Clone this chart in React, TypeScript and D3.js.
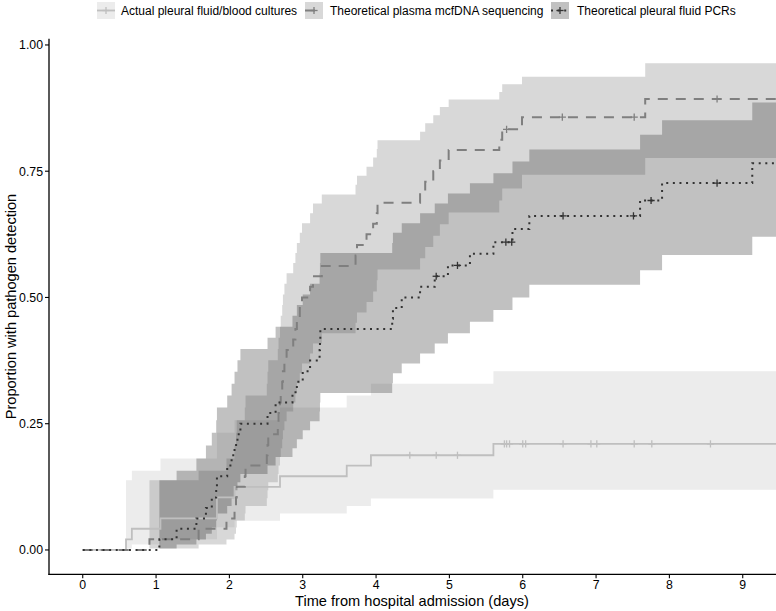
import React from 'react';
import * as d3 from 'd3';

const W = 776;
const H = 611;

// ---------- axis ticks ----------
const xTicks = [0, 1, 2, 3, 4, 5, 6, 7, 8, 9];
const yTicks = [0, 0.25, 0.5, 0.75, 1.0];
const yTickLabels = ['0.00', '0.25', '0.50', '0.75', '1.00'];
const xTitle = 'Time from hospital admission (days)';
const yTitle = 'Proportion with pathogen detection';
const legendLabels = [
  'Actual pleural fluid/blood cultures',
  'Theoretical plasma mcfDNA sequencing',
  'Theoretical pleural fluid PCRs',
];

// ---------- Actual pleural fluid/blood cultures ----------
const cultureTime = [0, 0.59, 0.67, 1.06, 1.83, 2.07, 2.69, 3.6, 3.93, 5.6];
const cultureEst = [0, 0.021, 0.042, 0.0625, 0.104, 0.125, 0.146, 0.167, 0.1875, 0.21];
const cultureLower = [0, 0.003, 0.011, 0.021, 0.045, 0.058, 0.072, 0.087, 0.102, 0.119];
const cultureUpper = [0, 0.138, 0.157, 0.181, 0.232, 0.257, 0.282, 0.306, 0.329, 0.354];
const cultureCensor = [4.46, 4.82, 5.11, 5.75, 5.78, 5.82, 6.0, 6.04, 6.55, 6.93, 7.01, 7.52, 7.76, 8.56];

// ---------- Theoretical plasma mcfDNA sequencing ----------
const mcfTime = [0, 0.91, 1.58, 1.96, 2.07, 2.09, 2.1, 2.21, 2.22, 2.51, 2.52, 2.53, 2.66, 2.67, 2.69, 2.7, 2.72, 2.73, 2.75, 2.78, 2.87, 2.9, 2.92, 2.96, 2.99, 3.1, 3.14, 3.26, 3.72, 3.74, 3.87, 3.96, 4.01, 4.02, 4.6, 4.67, 4.78, 4.87, 4.99, 5.68, 5.72, 5.99, 7.67];
const mcfEst = [0, 0.021, 0.042, 0.0625, 0.083, 0.104, 0.125, 0.146, 0.167, 0.1875, 0.208, 0.229, 0.25, 0.271, 0.292, 0.3125, 0.333, 0.354, 0.375, 0.396, 0.417, 0.4375, 0.458, 0.479, 0.5, 0.521, 0.542, 0.5625, 0.583, 0.604, 0.625, 0.646, 0.667, 0.6875, 0.708, 0.729, 0.75, 0.771, 0.792, 0.8125, 0.833, 0.857, 0.893];
const mcfLower = [0, 0.003, 0.0106, 0.0206, 0.0321, 0.0447, 0.0582, 0.0723, 0.0871, 0.1023, 0.118, 0.134, 0.1505, 0.167, 0.184, 0.2016, 0.219, 0.237, 0.255, 0.274, 0.292, 0.311, 0.33, 0.35, 0.369, 0.389, 0.409, 0.429, 0.45, 0.47, 0.491, 0.512, 0.534, 0.5555, 0.5775, 0.6, 0.622, 0.645, 0.668, 0.692, 0.716, 0.743, 0.776];
const mcfUpper = [0, 0.138, 0.157, 0.181, 0.207, 0.232, 0.257, 0.282, 0.306, 0.329, 0.353, 0.3755, 0.398, 0.42, 0.442, 0.464, 0.485, 0.506, 0.527, 0.548, 0.568, 0.588, 0.608, 0.628, 0.647, 0.667, 0.686, 0.704, 0.723, 0.741, 0.759, 0.777, 0.794, 0.8115, 0.828, 0.845, 0.861, 0.877, 0.892, 0.907, 0.922, 0.937, 0.964];
const mcfCensor = [5.78, 6.54, 7.52, 8.65];

// ---------- Theoretical pleural fluid PCRs ----------
const pcrTime = [0, 1.045, 1.28, 1.55, 1.68, 1.76, 1.82, 1.83, 1.97, 2.03, 2.07, 2.11, 2.15, 2.52, 2.63, 2.86, 2.92, 3.0, 3.1, 3.23, 3.235, 3.24, 4.22, 4.23, 4.35, 4.6, 4.8, 4.98, 5.28, 5.6, 5.86, 6.09, 7.6, 7.9, 9.13];
const pcrEst = [0, 0.021, 0.042, 0.0625, 0.083, 0.104, 0.125, 0.146, 0.167, 0.1875, 0.208, 0.229, 0.25, 0.271, 0.292, 0.3125, 0.333, 0.354, 0.375, 0.396, 0.417, 0.4375, 0.458, 0.479, 0.5, 0.521, 0.542, 0.5635, 0.5865, 0.6095, 0.6355, 0.6615, 0.692, 0.7265, 0.7656];
const pcrLower = [0, 0.003, 0.0106, 0.0206, 0.0321, 0.0447, 0.0582, 0.0723, 0.0871, 0.1023, 0.118, 0.134, 0.1505, 0.167, 0.184, 0.2016, 0.219, 0.237, 0.255, 0.274, 0.292, 0.311, 0.33, 0.35, 0.369, 0.389, 0.409, 0.429, 0.452, 0.475, 0.5, 0.525, 0.554, 0.584, 0.62];
const pcrUpper = [0, 0.138, 0.157, 0.181, 0.207, 0.232, 0.257, 0.282, 0.306, 0.329, 0.353, 0.3755, 0.398, 0.42, 0.442, 0.464, 0.485, 0.506, 0.527, 0.548, 0.568, 0.588, 0.608, 0.628, 0.647, 0.667, 0.686, 0.706, 0.726, 0.746, 0.769, 0.793, 0.822, 0.851, 0.886];
const pcrCensor = [4.82, 5.11, 5.77, 5.85, 6.55, 7.51, 7.75, 8.65];

const FONT = "'Liberation Sans', Arial, Helvetica, sans-serif";

const series = [
  { name: legendLabels[0], time: cultureTime, est: cultureEst, lo: cultureLower, up: cultureUpper, censor: cultureCensor, color: '#BFBFBF', dash: null as string | null, width: 1.8 },
  { name: legendLabels[1], time: mcfTime, est: mcfEst, lo: mcfLower, up: mcfUpper, censor: mcfCensor, color: '#7F7F7F', dash: '10 8', width: 2 },
  { name: legendLabels[2], time: pcrTime, est: pcrEst, lo: pcrLower, up: pcrUpper, censor: pcrCensor, color: '#333333', dash: '2 4.6', width: 2 },
];

const xEnd = 9.6;

export default function App() {
  const left = 49, right = 775, top = 38.8, bottom = 574.3;
  const x = d3.scaleLinear().domain([-0.46, 9.44]).range([left, right]);
  const y = d3.scaleLinear().domain([-0.0482, 1.0122]).range([bottom, top]);

  type P = { t: number; e: number; lo: number; up: number };
  const pts = (s: typeof series[number]): P[] => {
    const arr = s.time.map((t, i) => ({ t, e: s.est[i], lo: s.lo[i], up: s.up[i] }));
    const last = arr[arr.length - 1];
    arr.push({ ...last, t: xEnd });
    return arr;
  };
  const area = d3.area<P>().x(d => x(d.t)).y0(d => y(d.lo)).y1(d => y(d.up)).curve(d3.curveStepAfter);
  const line = d3.line<P>().x(d => x(d.t)).y(d => y(d.e)).curve(d3.curveStepAfter);
  const stepAt = (s: typeof series[number], t: number) => {
    const i = d3.bisectRight(s.time, t) - 1;
    return s.est[Math.max(0, i)];
  };

  const legendKeys = [
    { kx: 97, tx: 121 },
    { kx: 305, tx: 330 },
    { kx: 551, tx: 577 },
  ];
  const keyW = 18, keyY = 2, keyH = 17;

  const plus = (cx: number, cy: number, color: string, key: string, size = 3.6, sw = 1.3) => (
    <g key={key} stroke={color} strokeWidth={sw}>
      <line x1={cx - size} x2={cx + size} y1={cy} y2={cy} />
      <line x1={cx} x2={cx} y1={cy - size} y2={cy + size} />
    </g>
  );

  return (
    <svg width={W} height={H} style={{ position: 'absolute', left: 0, top: 0, background: '#fff' }} fontFamily={FONT}>
      <defs>
        <clipPath id="panel">
          <rect x={left} y={top} width={right - left + 1} height={bottom - top} />
        </clipPath>
      </defs>
      <rect x={0} y={0} width={W} height={H} fill="#fff" />

      {/* legend */}
      {series.map((s, i) => {
        const k = legendKeys[i];
        const cy = keyY + keyH / 2;
        return (
          <g key={'lg' + i}>
            <rect x={k.kx} y={keyY} width={keyW} height={keyH} fill={s.color} fillOpacity={0.3} />
            <line x1={k.kx} x2={k.kx + keyW} y1={cy} y2={cy} stroke={s.color} strokeWidth={s.width}
              strokeDasharray={s.dash ?? undefined} />
            {plus(k.kx + keyW / 2, cy, s.color, 'lp' + i)}
            <text x={k.tx} y={cy + 4.3} fontSize={12} fill="#000">{s.name}</text>
          </g>
        );
      })}

      <g clipPath="url(#panel)">
        {series.map((s, i) => (
          <path key={'band' + i} d={area(pts(s)) ?? ''} fill={s.color} fillOpacity={0.3} stroke="none" />
        ))}
        {series.map((s, i) => (
          <path key={'line' + i} d={line(pts(s)) ?? ''} fill="none" stroke={s.color} strokeWidth={s.width}
            strokeDasharray={s.dash ?? undefined} />
        ))}
        {series.map((s, i) => (
          <g key={'cens' + i}>
            {s.censor.map((t, j) => plus(x(t), y(stepAt(s, t)), s.color, 'c' + i + '-' + j))}
          </g>
        ))}
      </g>

      {/* axes */}
      <line x1={left} x2={left} y1={top} y2={bottom + 0.7} stroke="#000" strokeWidth={1.3} />
      <line x1={left - 0.6} x2={right + 1} y1={bottom} y2={bottom} stroke="#000" strokeWidth={1.3} />
      {yTicks.map((v, i) => (
        <g key={'yt' + i}>
          <line x1={left - 4} x2={left} y1={y(v)} y2={y(v)} stroke="#000" strokeWidth={1.1} />
          <text x={left - 6} y={y(v) + 4.3} fontSize={12.3} textAnchor="end" fill="#000">{yTickLabels[i]}</text>
        </g>
      ))}
      {xTicks.map((v, i) => (
        <g key={'xt' + i}>
          <line x1={x(v)} x2={x(v)} y1={bottom} y2={bottom + 4} stroke="#000" strokeWidth={1.1} />
          <text x={x(v)} y={bottom + 14.3} fontSize={12.3} textAnchor="middle" fill="#000">{v}</text>
        </g>
      ))}
      <text x={(left + right) / 2} y={606} fontSize={14.6} textAnchor="middle" fill="#000">{xTitle}</text>
      <text transform={`translate(16,${(top + bottom) / 2}) rotate(-90)`} fontSize={14.6} textAnchor="middle" fill="#000">{yTitle}</text>
    </svg>
  );
}
